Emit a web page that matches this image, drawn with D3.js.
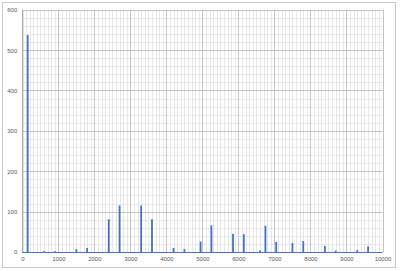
<!DOCTYPE html>
<html><head><meta charset="utf-8">
<script src="https://cdn.jsdelivr.net/npm/d3@7"></script>
<style>body{margin:0;background:#fff;}svg{display:block;}</style>
</head><body>
<svg id="c" width="400" height="271"></svg>
<script>
const freqs = [150, 600, 900, 1500, 1800, 2400, 2700, 3300, 3600, 4200, 4500, 4950, 5250, 5850, 6150, 6600, 6750, 7050, 7500, 7800, 8400, 8700, 9300, 9600];
const amps  = [537, 2, 2, 7, 10, 81, 115, 115, 81, 10, 7, 26, 66, 45, 44, 4, 65, 25, 22, 27, 15, 3.5, 5, 14];
const xTicks = [0,1000,2000,3000,4000,5000,6000,7000,8000,9000,10000];
const yTicks = [0,100,200,300,400,500,600];

const svg = d3.select("#c");
const L = 22.3, R = 382.5, T = 9.7, B = 252;
const x = d3.scaleLinear().domain([0,10000]).range([L,R]);
const y = d3.scaleLinear().domain([0,600]).range([B,T]);

svg.append("rect").attr("x",2.5).attr("y",2.5).attr("width",393).attr("height",265)
  .attr("fill","#fff").attr("stroke","#c8c8c8");

const g = svg.append("g");
// minor grid
g.selectAll(".mx").data(d3.range(0,10001,100)).join("line")
  .attr("x1",d=>Math.round(x(d))+0.5).attr("x2",d=>Math.round(x(d))+0.5).attr("y1",T).attr("y2",B)
  .attr("stroke","#e6e6e6").attr("stroke-width",1);
g.selectAll(".my").data(d3.range(0,601,20)).join("line")
  .attr("y1",d=>Math.round(y(d))+0.5).attr("y2",d=>Math.round(y(d))+0.5).attr("x1",L).attr("x2",R)
  .attr("stroke","#e6e6e6").attr("stroke-width",1);
// major grid
g.selectAll(".Mx").data(xTicks).join("line")
  .attr("x1",d=>Math.round(x(d))+0.5).attr("x2",d=>Math.round(x(d))+0.5).attr("y1",T).attr("y2",B)
  .attr("stroke","#c4c4c4");
g.selectAll(".My").data(yTicks).join("line")
  .attr("y1",d=>Math.round(y(d))+0.5).attr("y2",d=>Math.round(y(d))+0.5).attr("x1",L).attr("x2",R)
  .attr("stroke","#c4c4c4");

// axes
const xa = svg.append("g").attr("transform",`translate(0,${B})`)
  .call(d3.axisBottom(x).tickValues(xTicks).tickSize(0).tickPadding(5).tickFormat(d3.format("d")));
const ya = svg.append("g").attr("transform",`translate(${L},0)`)
  .call(d3.axisLeft(y).tickValues(yTicks).tickSize(0).tickPadding(5).tickFormat(d3.format("d")));
[xa,ya].forEach(a=>{
  a.select(".domain").attr("stroke","#a0a0a0");
  a.selectAll("text").attr("font-family","Liberation Sans, Arial, sans-serif").attr("font-size","6px").attr("fill","#595959");
});

// spikes
svg.append("g").selectAll("rect").data(freqs.map((f,i)=>({f,a:amps[i]}))).join("rect")
  .attr("x",d=>x(d.f)-0.9).attr("width",1.8)
  .attr("y",d=>y(d.a)).attr("height",d=>B-y(d.a))
  .attr("fill","#4472c4");
// baseline
svg.append("line").attr("x1",L).attr("x2",R).attr("y1",B+0.5).attr("y2",B+0.5).attr("stroke","#4a76c0").attr("stroke-width",1);
</script>
</body></html>
